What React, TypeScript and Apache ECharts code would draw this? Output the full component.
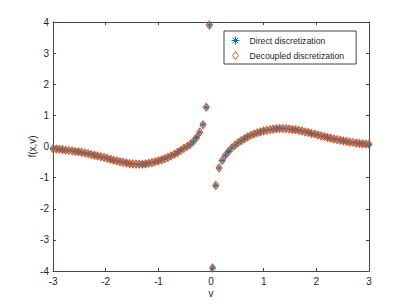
import React, { useEffect, useRef } from "react";
import * as echarts from "echarts";

// sample points v (100 points, -3 .. 3)
const vValues = [
  -3.0, -2.939, -2.879, -2.818, -2.758, -2.697, -2.636, -2.576, -2.515, -2.455,
  -2.394, -2.333, -2.273, -2.212, -2.152, -2.091, -2.03, -1.97, -1.909, -1.848,
  -1.788, -1.727, -1.667, -1.606, -1.545, -1.485, -1.424, -1.364, -1.303, -1.242,
  -1.182, -1.121, -1.061, -1.0, -0.939, -0.879, -0.818, -0.758, -0.697, -0.636,
  -0.576, -0.515, -0.455, -0.394, -0.333, -0.273, -0.212, -0.152, -0.091, -0.03,
  0.03, 0.091, 0.152, 0.212, 0.273, 0.333, 0.394, 0.455, 0.515, 0.576,
  0.636, 0.697, 0.758, 0.818, 0.879, 0.939, 1.0, 1.061, 1.121, 1.182,
  1.242, 1.303, 1.364, 1.424, 1.485, 1.545, 1.606, 1.667, 1.727, 1.788,
  1.848, 1.909, 1.97, 2.03, 2.091, 2.152, 2.212, 2.273, 2.333, 2.394,
  2.455, 2.515, 2.576, 2.636, 2.697, 2.758, 2.818, 2.879, 2.939, 3.0,
];

const directValues = [
  -0.07, -0.08, -0.09, -0.1, -0.12, -0.13, -0.14, -0.16, -0.17, -0.19,
  -0.21, -0.23, -0.26, -0.28, -0.3, -0.33, -0.35, -0.38, -0.41, -0.44,
  -0.46, -0.49, -0.51, -0.53, -0.55, -0.56, -0.57, -0.57, -0.57, -0.56,
  -0.54, -0.52, -0.49, -0.46, -0.43, -0.39, -0.35, -0.3, -0.25, -0.19,
  -0.13, -0.06, 0.0, 0.07, 0.17, 0.29, 0.46, 0.7, 1.26, 3.9,
  -3.9, -1.25, -0.69, -0.45, -0.28, -0.16, -0.05, 0.04, 0.12, 0.19,
  0.25, 0.31, 0.36, 0.4, 0.44, 0.47, 0.5, 0.52, 0.54, 0.56,
  0.57, 0.58, 0.58, 0.57, 0.56, 0.55, 0.54, 0.52, 0.5, 0.47,
  0.45, 0.42, 0.4, 0.37, 0.34, 0.32, 0.29, 0.27, 0.24, 0.22,
  0.2, 0.18, 0.16, 0.14, 0.13, 0.11, 0.1, 0.09, 0.08, 0.07,
];

const decoupledValues = [
  -0.07, -0.08, -0.09, -0.1, -0.12, -0.13, -0.14, -0.16, -0.17, -0.19,
  -0.21, -0.23, -0.26, -0.28, -0.3, -0.33, -0.35, -0.38, -0.41, -0.44,
  -0.46, -0.49, -0.51, -0.53, -0.55, -0.56, -0.57, -0.57, -0.57, -0.56,
  -0.54, -0.52, -0.49, -0.46, -0.43, -0.39, -0.35, -0.3, -0.25, -0.19,
  -0.13, -0.06, 0.0, 0.07, 0.17, 0.29, 0.46, 0.7, 1.26, 3.9,
  -3.9, -1.25, -0.69, -0.45, -0.28, -0.16, -0.05, 0.04, 0.12, 0.19,
  0.25, 0.31, 0.36, 0.4, 0.44, 0.47, 0.5, 0.52, 0.54, 0.56,
  0.57, 0.58, 0.58, 0.57, 0.56, 0.55, 0.54, 0.52, 0.5, 0.47,
  0.45, 0.42, 0.4, 0.37, 0.34, 0.32, 0.29, 0.27, 0.24, 0.22,
  0.2, 0.18, 0.16, 0.14, 0.13, 0.11, 0.1, 0.09, 0.08, 0.07,
];

const seriesNames = ["Direct discretization", "Decoupled discretization"];
const xRange = [-3, 3];
const yRange = [-4, 4];

const ASTERISK =
  "path://M0,-5L0,5M-5,0L5,0M-3.5,-3.5L3.5,3.5M-3.5,3.5L3.5,-3.5";
const DIAMOND = "path://M0,-4L3,0L0,4L-3,0Z";

const BLUE = "#0072BD";
const ORANGE = "#D95319";
const AXIS_COLOR = "#444444";
const TEXT_COLOR = "#262626";
const FONT = "Liberation Sans, Arial, sans-serif";

export default function App() {
  const ref = useRef<HTMLDivElement>(null);

  useEffect(() => {
    if (!ref.current) return;
    const chart = echarts.init(ref.current, undefined, { renderer: "svg" });

    const axisCommon = {
      type: "value" as const,
      axisLine: { show: true, onZero: false, lineStyle: { color: AXIS_COLOR, width: 1 } },
      axisTick: { show: true, inside: true, length: 3, lineStyle: { color: AXIS_COLOR } },
      splitLine: { show: false },
    };

    chart.setOption({
      animation: false,
      backgroundColor: "#ffffff",
      grid: { left: 53, right: 38, top: 22, bottom: 34 },
      legend: {
        left: 224,
        top: 31,
        orient: "vertical",
        padding: [3, 12, 2, 5],
        itemGap: 2,
        itemWidth: 18,
        itemHeight: 8,
        symbolKeepAspect: true,
        borderColor: AXIS_COLOR,
        borderWidth: 1,
        backgroundColor: "#ffffff",
        textStyle: { fontSize: 8.7, color: TEXT_COLOR, fontFamily: FONT, lineHeight: 8 },
        data: [
          {
            name: seriesNames[0],
            icon: ASTERISK,
            itemStyle: { color: "none", borderColor: BLUE, borderWidth: 1 },
          },
          {
            name: seriesNames[1],
            icon: DIAMOND,
            itemStyle: { color: "none", borderColor: ORANGE, borderWidth: 1 },
          },
        ],
      },
      xAxis: [
        {
          ...axisCommon,
          min: xRange[0],
          max: xRange[1],
          interval: 1,
          position: "bottom",
          axisLabel: { color: TEXT_COLOR, fontSize: 10, margin: 5, fontFamily: FONT },
          name: "v",
          nameLocation: "middle",
          nameGap: 17,
          nameMoveOverlap: false,
          nameTextStyle: { color: TEXT_COLOR, fontSize: 10, fontFamily: FONT },
        },
        {
          ...axisCommon,
          min: xRange[0],
          max: xRange[1],
          interval: 1,
          position: "top",
          axisLabel: { show: false },
        },
      ],
      yAxis: [
        {
          ...axisCommon,
          min: yRange[0],
          max: yRange[1],
          interval: 1,
          position: "left",
          axisLabel: { color: TEXT_COLOR, fontSize: 10, margin: 4, fontFamily: FONT },
          name: "f(x,v)",
          nameLocation: "middle",
          nameGap: 16,
          nameRotate: 90,
          nameMoveOverlap: false,
          nameTextStyle: { color: TEXT_COLOR, fontSize: 10, fontFamily: FONT },
        },
        {
          ...axisCommon,
          min: yRange[0],
          max: yRange[1],
          interval: 1,
          position: "right",
          axisLabel: { show: false },
        },
      ],
      series: [
        {
          name: seriesNames[0],
          type: "scatter",
          xAxisIndex: 0,
          yAxisIndex: 0,
          symbol: ASTERISK,
          symbolSize: 6,
          symbolKeepAspect: true,
          itemStyle: { color: "none", borderColor: BLUE, borderWidth: 1, opacity: 1 },
          data: vValues.map((v, i) => [v, directValues[i]]),
        },
        {
          name: seriesNames[1],
          type: "scatter",
          xAxisIndex: 0,
          yAxisIndex: 0,
          symbol: DIAMOND,
          symbolSize: [6, 8],
          itemStyle: { color: "none", borderColor: ORANGE, borderWidth: 1, opacity: 1 },
          data: vValues.map((v, i) => [v, decoupledValues[i]]),
        },
      ],
    });

    return () => chart.dispose();
  }, []);

  return (
    <div
      ref={ref}
      style={{ position: "fixed", left: 0, top: 0, width: 407, height: 305, background: "#fff" }}
    />
  );
}
